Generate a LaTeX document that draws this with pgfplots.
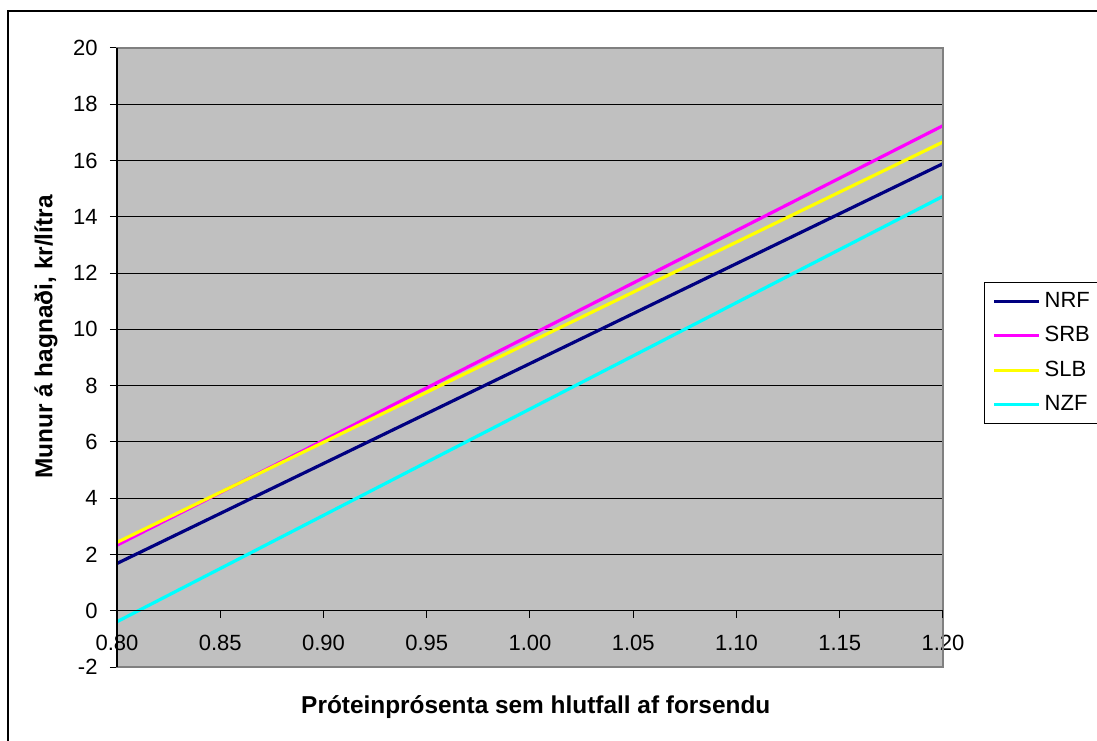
\documentclass[border=0pt]{standalone}
\usepackage{pgfplots}
\pgfplotsset{compat=1.18}
\usepackage{fontspec}
\setmainfont{Liberation Sans}
\definecolor{plotbg}{RGB}{192,192,192}
\definecolor{nrf}{RGB}{0,0,128}
\definecolor{srb}{RGB}{255,0,255}
\definecolor{slb}{RGB}{255,255,0}
\definecolor{nzf}{RGB}{0,255,255}
\begin{document}
\begin{tikzpicture}
\useasboundingbox (-58.5pt,-36.5pt) rectangle (490pt,333.5pt);
\clip (-58.5pt,-36.5pt) rectangle (490pt,333.5pt);
\fill[white] (-58.5pt,-36.5pt) rectangle (490pt,333.5pt);
\draw[line width=1pt] (-54.5pt,328pt) rectangle (500pt,-50pt);
\begin{axis}[
  at={(0,0)}, anchor=south west,
  width=413pt, height=309.5pt, scale only axis,
  xmin=0.8, xmax=1.2, ymin=-2, ymax=20,
  axis background/.style={fill=plotbg},
  axis line style={draw=none},
  xtick={0.80,0.85,0.90,0.95,1.00,1.05,1.10,1.15,1.20},
  xticklabels={0.80,0.85,0.90,0.95,1.00,1.05,1.10,1.15,1.20},
  ytick={-2,0,2,4,6,8,10,12,14,16,18,20},
  yticklabels={-2,0,2,4,6,8,10,12,14,16,18,20},
  ytick pos=left,
  tick align=outside, major tick length=3.5pt,
  xtick style={draw=none},
  ytick style={black, line width=0.5pt},
  ymajorgrids, grid style={black, line width=0.5pt},
  xticklabel style={yshift=23pt},
  yticklabel style={xshift=-2.7pt},
  tick label style={font=\fontsize{11}{13}\selectfont},
  xlabel={Próteinprósenta sem hlutfall af forsendu},
  ylabel={Munur á hagnaði, kr/lítra},
  label style={font=\fontsize{12.2}{14}\selectfont\bfseries},
  xlabel style={at={(axis description cs:0.507,-0.0646)}, anchor=center},
  ylabel style={at={(axis description cs:-0.086,0.533)}, anchor=center},
  legend style={at={(axis description cs:1.0496,0.622)}, anchor=north west,
    draw=black, line width=0.5pt, fill=white,
    font=\fontsize{11}{13}\selectfont, row sep=4pt,
    inner xsep=4pt, inner ysep=3pt},
  legend cell align=left,
  legend image code/.code={\draw[#1] (0pt,0pt) -- (22.5pt,0pt);},
  clip=false,
]
\addplot[nrf, line width=1.6pt] coordinates {(0.80,1.68) (1.20,15.89)};
\addlegendentry{NRF}
\addplot[srb, line width=1.6pt] coordinates {(0.80,2.33) (1.20,17.24)};
\addlegendentry{SRB}
\addplot[slb, line width=1.6pt] coordinates {(0.80,2.43) (1.20,16.66)};
\addlegendentry{SLB}
\addplot[nzf, line width=1.6pt] coordinates {(0.80,-0.39) (1.20,14.73)};
\addlegendentry{NZF}
\draw[gray, line width=1pt] (rel axis cs:0,0) rectangle (rel axis cs:1,1);
\draw[black, line width=0.6pt] (rel axis cs:0,0) -- (rel axis cs:0,1);
\draw[black, line width=0.6pt] (axis cs:0.8,0) -- (axis cs:1.2,0);
\pgfplotsinvokeforeach{0.80,0.85,0.90,0.95,1.00,1.05,1.10,1.15,1.20}{
  \draw[black, line width=0.5pt] (axis cs:#1,0) -- ++(0pt,-3.5pt);
}
\end{axis}
\end{tikzpicture}
\end{document}
